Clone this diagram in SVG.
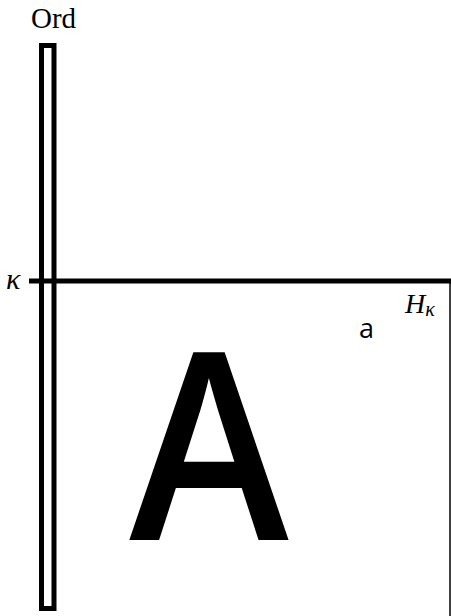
<svg xmlns="http://www.w3.org/2000/svg" width="451" height="616" viewBox="0 0 451 616">
<style>
.serif{font-family:"Liberation Serif","DejaVu Serif",serif;fill:#000}
.it{font-style:italic}
.sans{font-family:"Open Sans","Noto Sans",sans-serif;fill:#000}
.thick{stroke:#000;stroke-width:5;fill:none}
</style>
<rect width="451" height="616" fill="#fff"/>
<g id="connectors">
<line class="thick" x1="29" y1="281" x2="451" y2="281"/>
<line x1="450" y1="281" x2="450" y2="616" stroke="#000" stroke-width="1.5"/>
</g>
<g id="ord-bar">
<rect class="thick" x="41.5" y="45.5" width="12.5" height="563"/>
<text class="serif" x="31" y="28" font-size="29">Ord</text>
</g>
<g id="kappa">
<text class="serif it" x="6" y="289" font-size="30">κ</text>
</g>
<g id="H-kappa">
<text class="serif it" x="405" y="313" font-size="28">H<tspan font-size="20" dy="3">κ</tspan></text>
</g>
<g id="label-a">
<text class="sans" x="359" y="338" font-size="27">a</text>
</g>
<g id="big-A">
<text class="sans" font-size="262" font-weight="600" text-anchor="middle" transform="translate(209,540) scale(0.92,1)">A</text>
</g>
</svg>
